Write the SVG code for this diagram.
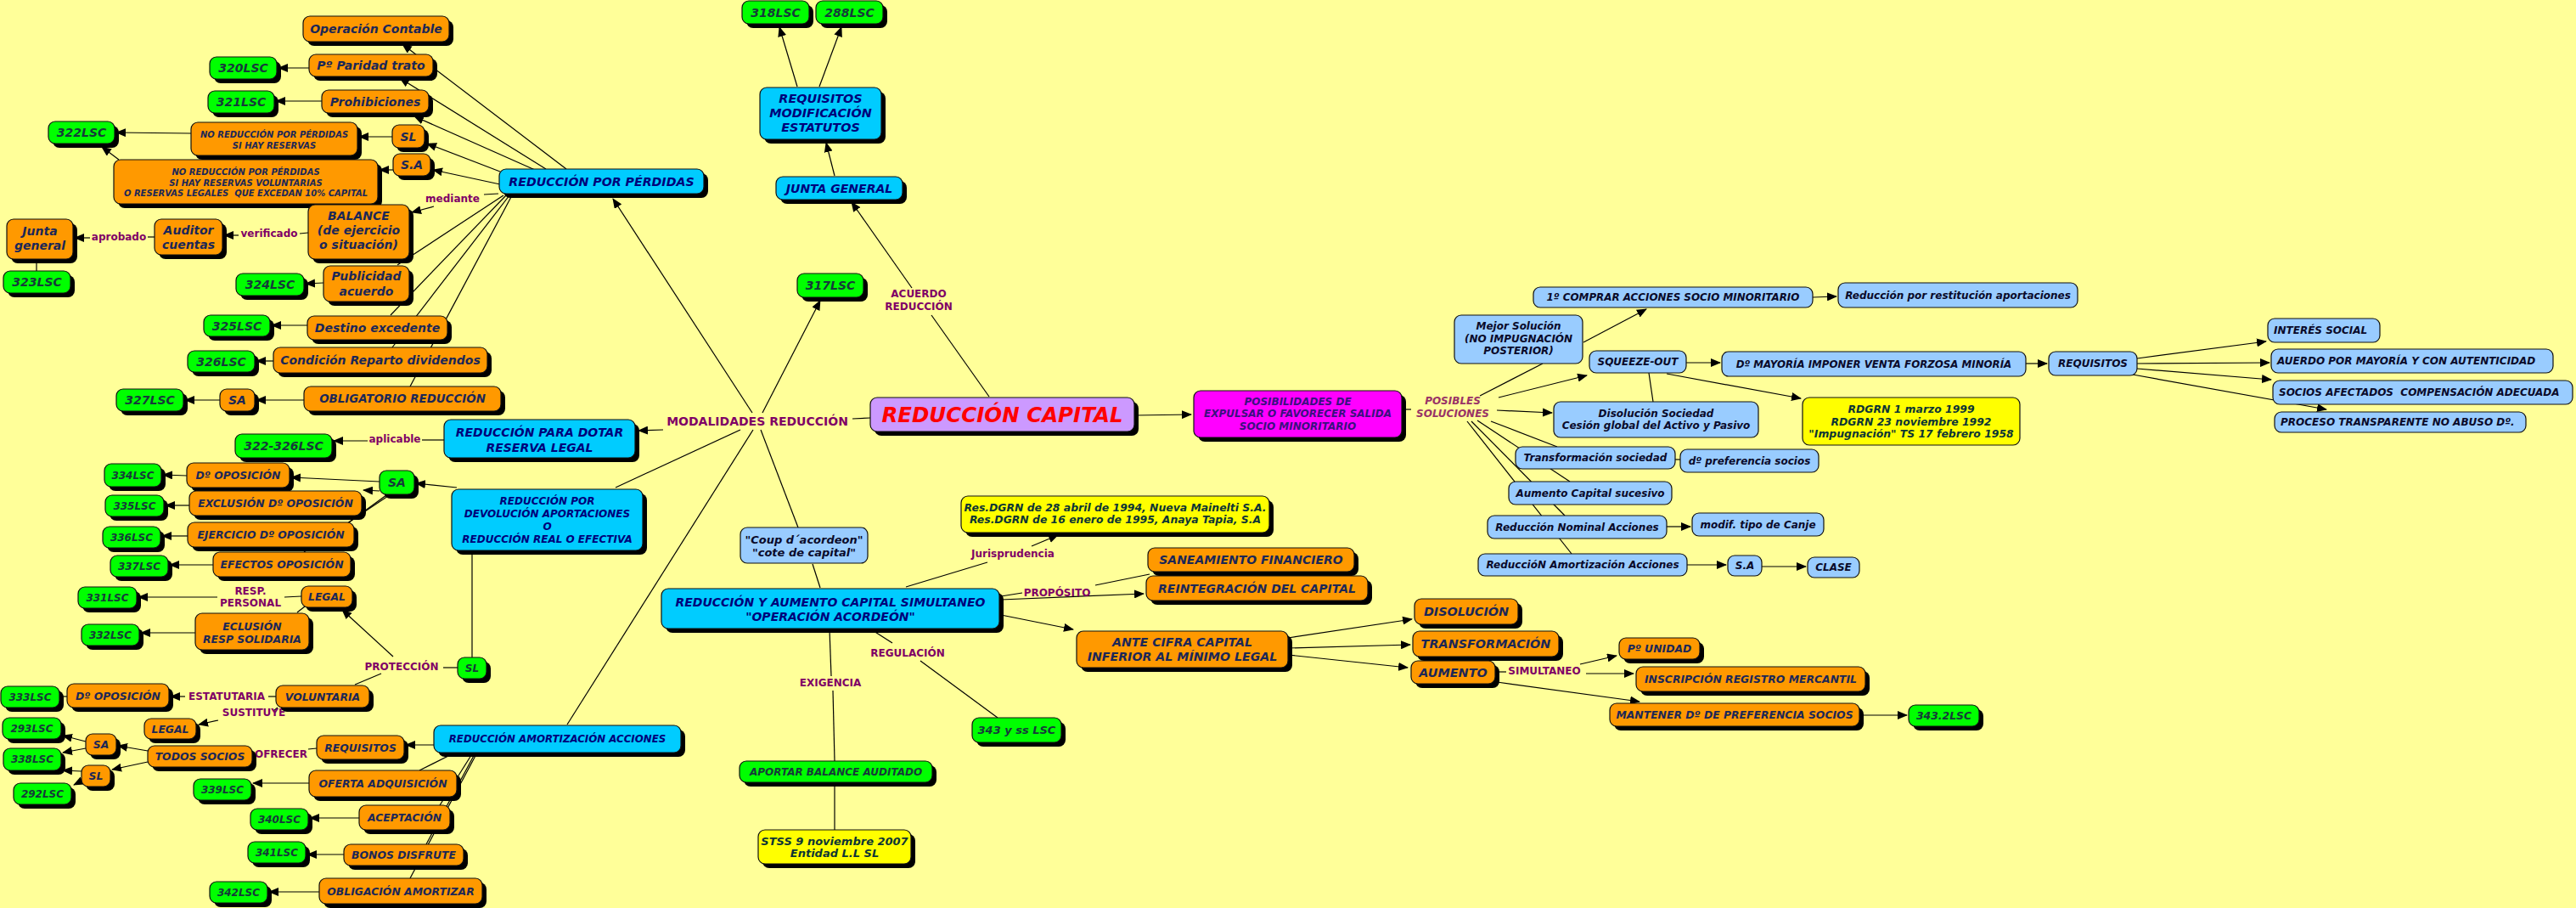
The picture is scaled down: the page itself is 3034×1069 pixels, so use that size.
<svg xmlns="http://www.w3.org/2000/svg" width="3034" height="1069" viewBox="0 0 3034 1069">
<defs>
<marker id="ah" markerWidth="12" markerHeight="10" refX="11" refY="5" orient="auto" markerUnits="userSpaceOnUse"><path d="M0,0 L12,5 L0,10 z" fill="#000"/></marker>
</defs>
<style>
.c line{stroke:#000;stroke-width:1.2;fill:none}
.c line.a{marker-end:url(#ah)}
.sh{fill:#000}
.bx{stroke:#111;stroke-width:1.2}
.nd text{font-family:"DejaVu Sans",Verdana,sans-serif;font-weight:bold;font-style:italic;text-anchor:middle;dominant-baseline:central}
.or .bx{fill:#FF9900}.or text{fill:#1b2757}
.gr .bx{fill:#00FF00}.gr text{fill:#163a3a}
.cy .bx{fill:#00CCFF}.cy text{fill:#00007a}
.lb .bx{fill:#99CCFF}.lb text{fill:#0a0a2a}
.ye .bx{fill:#FFFF00}.ye text{fill:#0c3535}
.mg .bx{fill:#FF00FF}.mg text{fill:#3a1080}
.mn .bx{fill:#CC99FF}.mn text{fill:#FF0000}
.lt text.l{text-anchor:start}
.lab text{font-family:"DejaVu Sans",Verdana,sans-serif;font-weight:bold;fill:#7f0066;text-anchor:middle;dominant-baseline:central;font-size:12px}
</style>
<rect x="0" y="0" width="3034" height="1069" fill="#FFFF99"/>

<g id="connectors" class="c">
<line x1="667" y1="199" x2="474" y2="52" class="a"/>
<line x1="643" y1="199" x2="471" y2="92" class="a"/>
<line x1="630" y1="200" x2="488" y2="137" class="a"/>
<line x1="589" y1="202" x2="503" y2="169" class="a"/>
<line x1="589" y1="217" x2="510" y2="200" class="a"/>
<line x1="587" y1="228" x2="570" y2="229"/>
<line x1="511" y1="243" x2="485" y2="250" class="a"/>
<line x1="593" y1="230" x2="468" y2="312"/>
<line x1="596" y1="230" x2="460" y2="371"/>
<line x1="600" y1="230" x2="462" y2="409"/>
<line x1="603" y1="230" x2="483" y2="455"/>
<line x1="364" y1="80" x2="328" y2="80" class="a"/>
<line x1="379" y1="119" x2="325" y2="119" class="a"/>
<line x1="462" y1="161" x2="423" y2="161" class="a"/>
<line x1="225" y1="157" x2="137" y2="156" class="a"/>
<line x1="463" y1="200" x2="447" y2="200" class="a"/>
<line x1="140" y1="188" x2="120" y2="173" class="a"/>
<line x1="363" y1="274" x2="353" y2="275"/>
<line x1="281" y1="277" x2="264" y2="277" class="a"/>
<line x1="182" y1="279" x2="174" y2="279"/>
<line x1="106" y1="280" x2="88" y2="280" class="a"/>
<line x1="43" y1="305" x2="43" y2="319"/>
<line x1="381" y1="333" x2="360" y2="334" class="a"/>
<line x1="362" y1="383" x2="320" y2="383" class="a"/>
<line x1="322" y1="425" x2="302" y2="425" class="a"/>
<line x1="358" y1="471" x2="302" y2="471" class="a"/>
<line x1="259" y1="471" x2="218" y2="471" class="a"/>
<line x1="523" y1="518" x2="497" y2="518"/>
<line x1="433" y1="519" x2="393" y2="519" class="a"/>
<line x1="538" y1="574" x2="490" y2="569" class="a"/>
<line x1="447" y1="567" x2="343" y2="562" class="a"/>
<line x1="447" y1="578" x2="428" y2="577" class="a"/>
<line x1="455" y1="583" x2="411" y2="615"/>
<line x1="460" y1="582" x2="358" y2="650"/>
<line x1="220" y1="560" x2="192" y2="559" class="a"/>
<line x1="223" y1="595" x2="195" y2="595" class="a"/>
<line x1="221" y1="631" x2="191" y2="631" class="a"/>
<line x1="251" y1="665" x2="200" y2="665" class="a"/>
<line x1="556" y1="648" x2="556" y2="774"/>
<line x1="539" y1="786" x2="522" y2="786"/>
<line x1="463" y1="773" x2="403" y2="718" class="a"/>
<line x1="449" y1="793" x2="418" y2="806"/>
<line x1="355" y1="702" x2="335" y2="703"/>
<line x1="256" y1="703" x2="163" y2="703" class="a"/>
<line x1="359" y1="714" x2="350" y2="721"/>
<line x1="230" y1="745" x2="166" y2="745" class="a"/>
<line x1="325" y1="820" x2="316" y2="820"/>
<line x1="218" y1="820" x2="201" y2="820" class="a"/>
<line x1="79" y1="820" x2="71" y2="820"/>
<line x1="327" y1="833" x2="322" y2="837"/>
<line x1="257" y1="848" x2="234" y2="853" class="a"/>
<line x1="373" y1="881" x2="363" y2="882"/>
<line x1="511" y1="877" x2="478" y2="877" class="a"/>
<line x1="174" y1="884" x2="139" y2="878" class="a"/>
<line x1="174" y1="897" x2="132" y2="906" class="a"/>
<line x1="101" y1="873" x2="74" y2="866" class="a"/>
<line x1="101" y1="881" x2="74" y2="886" class="a"/>
<line x1="96" y1="908" x2="74" y2="907" class="a"/>
<line x1="101" y1="917" x2="87" y2="924" class="a"/>
<line x1="534" y1="887" x2="494" y2="907"/>
<line x1="557" y1="886" x2="518" y2="948"/>
<line x1="560" y1="886" x2="502" y2="994"/>
<line x1="562" y1="886" x2="483" y2="1034"/>
<line x1="364" y1="922" x2="298" y2="922" class="a"/>
<line x1="423" y1="963" x2="365" y2="963" class="a"/>
<line x1="405" y1="1006" x2="362" y2="1006" class="a"/>
<line x1="376" y1="1050" x2="317" y2="1050" class="a"/>
<line x1="886" y1="486" x2="722" y2="234" class="a"/>
<line x1="898" y1="486" x2="966" y2="354" class="a"/>
<line x1="781" y1="506" x2="752" y2="507" class="a"/>
<line x1="872" y1="506" x2="725" y2="574"/>
<line x1="887" y1="506" x2="668" y2="853"/>
<line x1="896" y1="506" x2="940" y2="621"/>
<line x1="957" y1="664" x2="966" y2="692"/>
<line x1="1025" y1="492" x2="1004" y2="493"/>
<line x1="1165" y1="467" x2="1097" y2="371"/>
<line x1="1074" y1="339" x2="1003" y2="238" class="a"/>
<line x1="983" y1="207" x2="973" y2="168" class="a"/>
<line x1="939" y1="102" x2="918" y2="32" class="a"/>
<line x1="965" y1="102" x2="991" y2="32" class="a"/>
<line x1="1336" y1="489" x2="1403" y2="488" class="a"/>
<line x1="1067" y1="691" x2="1163" y2="662"/>
<line x1="1215" y1="643" x2="1246" y2="630" class="a"/>
<line x1="1179" y1="702" x2="1204" y2="698"/>
<line x1="1290" y1="689" x2="1354" y2="676"/>
<line x1="1179" y1="706" x2="1347" y2="699" class="a"/>
<line x1="1179" y1="724" x2="1264" y2="741" class="a"/>
<line x1="977" y1="741" x2="979" y2="796"/>
<line x1="981" y1="813" x2="983" y2="896"/>
<line x1="983" y1="921" x2="983" y2="977"/>
<line x1="1026" y1="741" x2="1051" y2="757"/>
<line x1="1084" y1="778" x2="1175" y2="845"/>
<line x1="1517" y1="751" x2="1663" y2="729" class="a"/>
<line x1="1517" y1="763" x2="1661" y2="759" class="a"/>
<line x1="1517" y1="771" x2="1658" y2="786" class="a"/>
<line x1="1761" y1="791" x2="1774" y2="791"/>
<line x1="1861" y1="782" x2="1904" y2="772" class="a"/>
<line x1="1868" y1="793" x2="1924" y2="793" class="a"/>
<line x1="1763" y1="803" x2="1931" y2="826" class="a"/>
<line x1="2192" y1="842" x2="2246" y2="842" class="a"/>
<line x1="1651" y1="482" x2="1662" y2="482"/>
<line x1="1743" y1="466" x2="1817" y2="428"/>
<line x1="1865" y1="403" x2="1939" y2="364" class="a"/>
<line x1="1765" y1="468" x2="1869" y2="442" class="a"/>
<line x1="1763" y1="483" x2="1828" y2="486" class="a"/>
<line x1="1756" y1="496" x2="1834" y2="526"/>
<line x1="1740" y1="495" x2="1849" y2="567"/>
<line x1="1733" y1="496" x2="1843" y2="607"/>
<line x1="1728" y1="496" x2="1851" y2="652"/>
<line x1="2135" y1="350" x2="2163" y2="349" class="a"/>
<line x1="1986" y1="427" x2="2026" y2="427" class="a"/>
<line x1="1963" y1="440" x2="2121" y2="469" class="a"/>
<line x1="1942" y1="439" x2="1947" y2="473"/>
<line x1="1973" y1="541" x2="1979" y2="541"/>
<line x1="1963" y1="620" x2="1991" y2="620" class="a"/>
<line x1="1987" y1="665" x2="2033" y2="665" class="a"/>
<line x1="2075" y1="667" x2="2127" y2="667" class="a"/>
<line x1="2386" y1="428" x2="2411" y2="428" class="a"/>
<line x1="2517" y1="422" x2="2669" y2="402" class="a"/>
<line x1="2517" y1="428" x2="2673" y2="427" class="a"/>
<line x1="2517" y1="434" x2="2675" y2="447" class="a"/>
<line x1="2512" y1="441" x2="2740" y2="482" class="a"/>
</g>

<g id="labels" class="lab">
<text x="533" y="234">mediante</text>
<text x="317" y="275">verificado</text>
<text x="140" y="279">aprobado</text>
<text x="465" y="517">aplicable</text>
<text x="892" y="496" style="font-size:14px">MODALIDADES REDUCCIÓN</text>
<text x="1082" y="346">ACUERDO</text>
<text x="1082" y="361">REDUCCIÓN</text>
<text x="295" y="696">RESP.</text>
<text x="295" y="710">PERSONAL</text>
<text x="473" y="785">PROTECCIÓN</text>
<text x="267" y="820">ESTATUTARIA</text>
<text x="299" y="839">SUSTITUYE</text>
<text x="331" y="888">OFRECER</text>
<text x="1193" y="652">Jurisprudencia</text>
<text x="1245" y="698">PROPÓSITO</text>
<text x="1069" y="769">REGULACIÓN</text>
<text x="978" y="804">EXIGENCIA</text>
<text x="1819" y="790">SIMULTANEO</text>
<text x="1711" y="472" style="fill:#993366;font-style:italic">POSIBLES</text>
<text x="1711" y="487" style="fill:#993366;font-style:italic">SOLUCIONES</text>
</g>

<!-- orange nodes -->
<g id="n-operacion-contable" class="nd or"><rect class="sh" x="362" y="24" width="172" height="30" rx="8"/><rect class="bx" x="357" y="19" width="172" height="30" rx="8"/><text x="443" y="34" font-size="14">Operación Contable</text></g>
<g id="n-paridad" class="nd or"><rect class="sh" x="369" y="69" width="146" height="26" rx="8"/><rect class="bx" x="364" y="64" width="146" height="26" rx="8"/><text x="437" y="77" font-size="14">Pº Paridad trato</text></g>
<g id="n-prohibiciones" class="nd or"><rect class="sh" x="384" y="111" width="126" height="27" rx="8"/><rect class="bx" x="379" y="106" width="126" height="27" rx="8"/><text x="442" y="119.5" font-size="14">Prohibiciones</text></g>
<g id="n-noreduc1" class="nd or"><rect class="sh" x="230" y="149" width="196" height="39" rx="8"/><rect class="bx" x="225" y="144" width="196" height="39" rx="8"/><text font-size="10"><tspan x="323" y="158">NO REDUCCIÓN POR PÉRDIDAS</tspan><tspan x="323" y="171">SI HAY RESERVAS</tspan></text></g>
<g id="n-sl1" class="nd or"><rect class="sh" x="467" y="152" width="38" height="27" rx="8"/><rect class="bx" x="462" y="147" width="38" height="27" rx="8"/><text x="481" y="160.5" font-size="14">SL</text></g>
<g id="n-sa1" class="nd or"><rect class="sh" x="468" y="186" width="44" height="26" rx="8"/><rect class="bx" x="463" y="181" width="44" height="26" rx="8"/><text x="485" y="194" font-size="14">S.A</text></g>
<g id="n-noreduc2" class="nd or"><rect class="sh" x="139" y="193" width="311" height="52" rx="8"/><rect class="bx" x="134" y="188" width="311" height="52" rx="8"/><text font-size="10" style="white-space:pre"><tspan x="289.5" y="202">NO REDUCCIÓN POR PÉRDIDAS</tspan><tspan x="289.5" y="214.5">SI HAY RESERVAS VOLUNTARIAS</tspan><tspan x="289.5" y="227">O RESERVAS LEGALES  QUE EXCEDAN 10% CAPITAL</tspan></text></g>
<g id="n-balance" class="nd or"><rect class="sh" x="368" y="246" width="119" height="64" rx="8"/><rect class="bx" x="363" y="241" width="119" height="64" rx="8"/><text font-size="14"><tspan x="422.5" y="254">BALANCE</tspan><tspan x="422.5" y="271">(de ejercicio</tspan><tspan x="422.5" y="288">o situación)</tspan></text></g>
<g id="n-auditor" class="nd or"><rect class="sh" x="187" y="263" width="80" height="42" rx="8"/><rect class="bx" x="182" y="258" width="80" height="42" rx="8"/><text font-size="14"><tspan x="222" y="271">Auditor</tspan><tspan x="222" y="288">cuentas</tspan></text></g>
<g id="n-junta1" class="nd or"><rect class="sh" x="13" y="263" width="78" height="47" rx="8"/><rect class="bx" x="8" y="258" width="78" height="47" rx="8"/><text font-size="14"><tspan x="47" y="272">Junta</tspan><tspan x="47" y="289">general</tspan></text></g>
<g id="n-publicidad" class="nd or"><rect class="sh" x="386" y="318" width="101" height="42" rx="8"/><rect class="bx" x="381" y="313" width="101" height="42" rx="8"/><text font-size="14"><tspan x="431.5" y="325">Publicidad</tspan><tspan x="431.5" y="343">acuerdo</tspan></text></g>
<g id="n-destino" class="nd or"><rect class="sh" x="367" y="377" width="165" height="28" rx="8"/><rect class="bx" x="362" y="372" width="165" height="28" rx="8"/><text x="444.5" y="386" font-size="14">Destino excedente</text></g>
<g id="n-condicion" class="nd or"><rect class="sh" x="327" y="414" width="252" height="30" rx="8"/><rect class="bx" x="322" y="409" width="252" height="30" rx="8"/><text x="448" y="424" font-size="14">Condición Reparto dividendos</text></g>
<g id="n-sa2" class="nd or"><rect class="sh" x="264" y="463" width="41" height="26" rx="8"/><rect class="bx" x="259" y="458" width="41" height="26" rx="8"/><text x="279.5" y="471" font-size="14">SA</text></g>
<g id="n-obligatorio" class="nd or"><rect class="sh" x="363" y="460" width="232" height="29" rx="8"/><rect class="bx" x="358" y="455" width="232" height="29" rx="8"/><text x="474" y="469.5" font-size="13.4">OBLIGATORIO REDUCCIÓN</text></g>
<g id="n-doposicion1" class="nd or"><rect class="sh" x="225" y="550" width="121" height="29" rx="8"/><rect class="bx" x="220" y="545" width="121" height="29" rx="8"/><text x="280.5" y="559.5" font-size="12.4">Dº OPOSICIÓN</text></g>
<g id="n-exclusion" class="nd or"><rect class="sh" x="228" y="583" width="203" height="29" rx="8"/><rect class="bx" x="223" y="578" width="203" height="29" rx="8"/><text x="324.5" y="592.5" font-size="12.4">EXCLUSIÓN Dº OPOSICIÓN</text></g>
<g id="n-ejercicio" class="nd or"><rect class="sh" x="226" y="620" width="196" height="29" rx="8"/><rect class="bx" x="221" y="615" width="196" height="29" rx="8"/><text x="319" y="629.5" font-size="12.4">EJERCICIO Dº OPOSICIÓN</text></g>
<g id="n-efectos" class="nd or"><rect class="sh" x="256" y="655" width="162" height="29" rx="8"/><rect class="bx" x="251" y="650" width="162" height="29" rx="8"/><text x="332" y="664.5" font-size="12.4">EFECTOS OPOSICIÓN</text></g>
<g id="n-legal1" class="nd or"><rect class="sh" x="360" y="695" width="60" height="25" rx="8"/><rect class="bx" x="355" y="690" width="60" height="25" rx="8"/><text x="385" y="702.5" font-size="12.4">LEGAL</text></g>
<g id="n-eclusion" class="nd or"><rect class="sh" x="235" y="727" width="134" height="43" rx="8"/><rect class="bx" x="230" y="722" width="134" height="43" rx="8"/><text font-size="12.4"><tspan x="297" y="737">ECLUSIÓN</tspan><tspan x="297" y="752">RESP SOLIDARIA</tspan></text></g>
<g id="n-doposicion2" class="nd or"><rect class="sh" x="84" y="810" width="120" height="28" rx="8"/><rect class="bx" x="79" y="805" width="120" height="28" rx="8"/><text x="139" y="819" font-size="12.4">Dº OPOSICIÓN</text></g>
<g id="n-voluntaria" class="nd or"><rect class="sh" x="330" y="812" width="110" height="26" rx="8"/><rect class="bx" x="325" y="807" width="110" height="26" rx="8"/><text x="380" y="820" font-size="12.4">VOLUNTARIA</text></g>
<g id="n-legal2" class="nd or"><rect class="sh" x="175" y="851" width="61" height="24" rx="8"/><rect class="bx" x="170" y="846" width="61" height="24" rx="8"/><text x="200.5" y="858" font-size="12.4">LEGAL</text></g>
<g id="n-sa3" class="nd or"><rect class="sh" x="106" y="869" width="36" height="25" rx="8"/><rect class="bx" x="101" y="864" width="36" height="25" rx="8"/><text x="119" y="876.5" font-size="12.4">SA</text></g>
<g id="n-todos" class="nd or"><rect class="sh" x="179" y="883" width="123" height="25" rx="8"/><rect class="bx" x="174" y="878" width="123" height="25" rx="8"/><text x="235.5" y="890.5" font-size="12.4">TODOS SOCIOS</text></g>
<g id="n-sl3" class="nd or"><rect class="sh" x="101" y="906" width="34" height="25" rx="8"/><rect class="bx" x="96" y="901" width="34" height="25" rx="8"/><text x="113" y="913.5" font-size="12.4">SL</text></g>
<g id="n-requisitos1" class="nd or"><rect class="sh" x="378" y="871" width="103" height="28" rx="8"/><rect class="bx" x="373" y="866" width="103" height="28" rx="8"/><text x="424.5" y="880" font-size="12.4">REQUISITOS</text></g>
<g id="n-oferta" class="nd or"><rect class="sh" x="369" y="912" width="174" height="31" rx="8"/><rect class="bx" x="364" y="907" width="174" height="31" rx="8"/><text x="451" y="922.5" font-size="12.4">OFERTA ADQUISICIÓN</text></g>
<g id="n-aceptacion" class="nd or"><rect class="sh" x="428" y="953" width="107" height="29" rx="8"/><rect class="bx" x="423" y="948" width="107" height="29" rx="8"/><text x="476.5" y="962.5" font-size="12.4">ACEPTACIÓN</text></g>
<g id="n-bonos" class="nd or"><rect class="sh" x="410" y="999" width="141" height="25" rx="8"/><rect class="bx" x="405" y="994" width="141" height="25" rx="8"/><text x="475.5" y="1006.5" font-size="12.4">BONOS DISFRUTE</text></g>
<g id="n-obligacion" class="nd or"><rect class="sh" x="381" y="1039" width="192" height="30" rx="8"/><rect class="bx" x="376" y="1034" width="192" height="30" rx="8"/><text x="472" y="1049" font-size="12.4">OBLIGACIÓN AMORTIZAR</text></g>
<g id="n-saneamiento" class="nd or"><rect class="sh" x="1357" y="650" width="243" height="28" rx="8"/><rect class="bx" x="1352" y="645" width="243" height="28" rx="8"/><text x="1473.5" y="659" font-size="14">SANEAMIENTO FINANCIERO</text></g>
<g id="n-reintegracion" class="nd or"><rect class="sh" x="1355" y="683" width="261" height="29" rx="8"/><rect class="bx" x="1350" y="678" width="261" height="29" rx="8"/><text x="1480.5" y="692.5" font-size="14">REINTEGRACIÓN DEL CAPITAL</text></g>
<g id="n-ante" class="nd or"><rect class="sh" x="1273" y="748" width="249" height="43" rx="8"/><rect class="bx" x="1268" y="743" width="249" height="43" rx="8"/><text font-size="14.2"><tspan x="1392.5" y="756">ANTE CIFRA CAPITAL</tspan><tspan x="1392.5" y="773">INFERIOR AL MÍNIMO LEGAL</tspan></text></g>
<g id="n-disolucion" class="nd or"><rect class="sh" x="1671" y="710" width="122" height="30" rx="8"/><rect class="bx" x="1666" y="705" width="122" height="30" rx="8"/><text x="1727" y="720" font-size="14.4">DISOLUCIÓN</text></g>
<g id="n-transformacion" class="nd or"><rect class="sh" x="1669" y="748" width="172" height="30" rx="8"/><rect class="bx" x="1664" y="743" width="172" height="30" rx="8"/><text x="1750" y="758" font-size="14.4">TRANSFORMACIÓN</text></g>
<g id="n-aumento" class="nd or"><rect class="sh" x="1667" y="783" width="99" height="27" rx="8"/><rect class="bx" x="1662" y="778" width="99" height="27" rx="8"/><text x="1711.5" y="791.5" font-size="14.4">AUMENTO</text></g>
<g id="n-unidad" class="nd or"><rect class="sh" x="1912" y="756" width="95" height="25" rx="8"/><rect class="bx" x="1907" y="751" width="95" height="25" rx="8"/><text x="1954.5" y="763.5" font-size="12.4">Pº UNIDAD</text></g>
<g id="n-inscripcion" class="nd or"><rect class="sh" x="1932" y="790" width="270" height="29" rx="8"/><rect class="bx" x="1927" y="785" width="270" height="29" rx="8"/><text x="2062" y="799.5" font-size="12.4">INSCRIPCIÓN REGISTRO MERCANTIL</text></g>
<g id="n-mantener" class="nd or"><rect class="sh" x="1901" y="833" width="294" height="27" rx="8"/><rect class="bx" x="1896" y="828" width="294" height="27" rx="8"/><text x="2043" y="841.5" font-size="12.4">MANTENER Dº DE PREFERENCIA SOCIOS</text></g>

<!-- green nodes -->
<g id="n-320" class="nd gr"><rect class="sh" x="252" y="72" width="79" height="26" rx="8"/><rect class="bx" x="247" y="67" width="79" height="26" rx="8"/><text x="286.5" y="80" font-size="14">320LSC</text></g>
<g id="n-321" class="nd gr"><rect class="sh" x="250" y="112" width="78" height="26" rx="8"/><rect class="bx" x="245" y="107" width="78" height="26" rx="8"/><text x="284" y="120" font-size="14">321LSC</text></g>
<g id="n-322" class="nd gr"><rect class="sh" x="62" y="148" width="78" height="26" rx="8"/><rect class="bx" x="57" y="143" width="78" height="26" rx="8"/><text x="96" y="156" font-size="14">322LSC</text></g>
<g id="n-323" class="nd gr"><rect class="sh" x="9" y="324" width="79" height="26" rx="8"/><rect class="bx" x="4" y="319" width="79" height="26" rx="8"/><text x="43.5" y="332" font-size="14">323LSC</text></g>
<g id="n-324" class="nd gr"><rect class="sh" x="283" y="327" width="80" height="26" rx="8"/><rect class="bx" x="278" y="322" width="80" height="26" rx="8"/><text x="318" y="335" font-size="14">324LSC</text></g>
<g id="n-325" class="nd gr"><rect class="sh" x="245" y="376" width="78" height="25" rx="8"/><rect class="bx" x="240" y="371" width="78" height="25" rx="8"/><text x="279" y="383.5" font-size="14">325LSC</text></g>
<g id="n-326" class="nd gr"><rect class="sh" x="226" y="418" width="79" height="25" rx="8"/><rect class="bx" x="221" y="413" width="79" height="25" rx="8"/><text x="260.5" y="425.5" font-size="14">326LSC</text></g>
<g id="n-327" class="nd gr"><rect class="sh" x="142" y="463" width="79" height="26" rx="8"/><rect class="bx" x="137" y="458" width="79" height="26" rx="8"/><text x="176.5" y="471" font-size="14">327LSC</text></g>
<g id="n-322-326" class="nd gr"><rect class="sh" x="282" y="516" width="114" height="28" rx="8"/><rect class="bx" x="277" y="511" width="114" height="28" rx="8"/><text x="334" y="525" font-size="14">322-326LSC</text></g>
<g id="n-334" class="nd gr"><rect class="sh" x="128" y="551" width="67" height="27" rx="8"/><rect class="bx" x="123" y="546" width="67" height="27" rx="8"/><text x="156.5" y="559.5" font-size="12">334LSC</text></g>
<g id="n-335" class="nd gr"><rect class="sh" x="129" y="588" width="69" height="25" rx="8"/><rect class="bx" x="124" y="583" width="69" height="25" rx="8"/><text x="158.5" y="595.5" font-size="12">335LSC</text></g>
<g id="n-336" class="nd gr"><rect class="sh" x="126" y="625" width="68" height="25" rx="8"/><rect class="bx" x="121" y="620" width="68" height="25" rx="8"/><text x="155" y="632.5" font-size="12">336LSC</text></g>
<g id="n-337" class="nd gr"><rect class="sh" x="135" y="659" width="68" height="25" rx="8"/><rect class="bx" x="130" y="654" width="68" height="25" rx="8"/><text x="164" y="666.5" font-size="12">337LSC</text></g>
<g id="n-331" class="nd gr"><rect class="sh" x="97" y="696" width="69" height="25" rx="8"/><rect class="bx" x="92" y="691" width="69" height="25" rx="8"/><text x="126.5" y="703.5" font-size="12">331LSC</text></g>
<g id="n-332" class="nd gr"><rect class="sh" x="101" y="740" width="68" height="25" rx="8"/><rect class="bx" x="96" y="735" width="68" height="25" rx="8"/><text x="130" y="747.5" font-size="12">332LSC</text></g>
<g id="n-sl2" class="nd gr"><rect class="sh" x="544" y="779" width="34" height="25" rx="8"/><rect class="bx" x="539" y="774" width="34" height="25" rx="8"/><text x="556" y="786.5" font-size="12">SL</text></g>
<g id="n-333" class="nd gr"><rect class="sh" x="6" y="813" width="69" height="25" rx="8"/><rect class="bx" x="1" y="808" width="69" height="25" rx="8"/><text x="35.5" y="820.5" font-size="12">333LSC</text></g>
<g id="n-293" class="nd gr"><rect class="sh" x="8" y="850" width="69" height="25" rx="8"/><rect class="bx" x="3" y="845" width="69" height="25" rx="8"/><text x="37.5" y="857.5" font-size="12">293LSC</text></g>
<g id="n-338" class="nd gr"><rect class="sh" x="9" y="886" width="68" height="26" rx="8"/><rect class="bx" x="4" y="881" width="68" height="26" rx="8"/><text x="38" y="894" font-size="12">338LSC</text></g>
<g id="n-292" class="nd gr"><rect class="sh" x="21" y="927" width="68" height="25" rx="8"/><rect class="bx" x="16" y="922" width="68" height="25" rx="8"/><text x="50" y="934.5" font-size="12">292LSC</text></g>
<g id="n-339" class="nd gr"><rect class="sh" x="233" y="922" width="68" height="25" rx="8"/><rect class="bx" x="228" y="917" width="68" height="25" rx="8"/><text x="262" y="929.5" font-size="12">339LSC</text></g>
<g id="n-340" class="nd gr"><rect class="sh" x="300" y="957" width="68" height="25" rx="8"/><rect class="bx" x="295" y="952" width="68" height="25" rx="8"/><text x="329" y="964.5" font-size="12">340LSC</text></g>
<g id="n-341" class="nd gr"><rect class="sh" x="297" y="996" width="68" height="25" rx="8"/><rect class="bx" x="292" y="991" width="68" height="25" rx="8"/><text x="326" y="1003.5" font-size="12">341LSC</text></g>
<g id="n-342" class="nd gr"><rect class="sh" x="252" y="1043" width="68" height="25" rx="8"/><rect class="bx" x="247" y="1038" width="68" height="25" rx="8"/><text x="281" y="1050.5" font-size="12">342LSC</text></g>
<g id="n-sa-green" class="nd gr"><rect class="sh" x="452" y="559" width="41" height="28" rx="8"/><rect class="bx" x="447" y="554" width="41" height="28" rx="8"/><text x="467.5" y="568" font-size="14">SA</text></g>
<g id="n-318" class="nd gr"><rect class="sh" x="879" y="6" width="79" height="27" rx="8"/><rect class="bx" x="874" y="1" width="79" height="27" rx="8"/><text x="913.5" y="14.5" font-size="14">318LSC</text></g>
<g id="n-288" class="nd gr"><rect class="sh" x="966" y="6" width="79" height="27" rx="8"/><rect class="bx" x="961" y="1" width="79" height="27" rx="8"/><text x="1000.5" y="14.5" font-size="14">288LSC</text></g>
<g id="n-317" class="nd gr"><rect class="sh" x="944" y="327" width="78" height="28" rx="8"/><rect class="bx" x="939" y="322" width="78" height="28" rx="8"/><text x="978" y="336" font-size="14">317LSC</text></g>
<g id="n-343" class="nd gr"><rect class="sh" x="1150" y="850" width="105" height="29" rx="8"/><rect class="bx" x="1145" y="845" width="105" height="29" rx="8"/><text x="1197.5" y="859.5" font-size="13">343 y ss LSC</text></g>
<g id="n-aportar" class="nd gr"><rect class="sh" x="876" y="901" width="227" height="25" rx="8"/><rect class="bx" x="871" y="896" width="227" height="25" rx="8"/><text x="984.5" y="908.5" font-size="12">APORTAR BALANCE AUDITADO</text></g>
<g id="n-343-2" class="nd gr"><rect class="sh" x="2253" y="835" width="83" height="25" rx="8"/><rect class="bx" x="2248" y="830" width="83" height="25" rx="8"/><text x="2289.5" y="842.5" font-size="12.4">343.2LSC</text></g>

<!-- cyan nodes -->
<g id="n-perdidas" class="nd cy"><rect class="sh" x="593" y="204" width="241" height="29" rx="8"/><rect class="bx" x="588" y="199" width="241" height="29" rx="8"/><text x="708.5" y="213.5" font-size="14.2">REDUCCIÓN POR PÉRDIDAS</text></g>
<g id="n-junta-general" class="nd cy"><rect class="sh" x="919" y="213" width="149" height="27" rx="8"/><rect class="bx" x="914" y="208" width="149" height="27" rx="8"/><text x="988.5" y="221.5" font-size="14">JUNTA GENERAL</text></g>
<g id="n-req-estatutos" class="nd cy"><rect class="sh" x="900" y="108" width="143" height="61" rx="8"/><rect class="bx" x="895" y="103" width="143" height="61" rx="8"/><text font-size="14.4"><tspan x="966.5" y="116">REQUISITOS</tspan><tspan x="966.5" y="133">MODIFICACIÓN</tspan><tspan x="966.5" y="150">ESTATUTOS</tspan></text></g>
<g id="n-dotar" class="nd cy"><rect class="sh" x="528" y="499" width="225" height="45" rx="8"/><rect class="bx" x="523" y="494" width="225" height="45" rx="8"/><text font-size="14"><tspan x="635.5" y="509">REDUCCIÓN PARA DOTAR</tspan><tspan x="635.5" y="527">RESERVA LEGAL</tspan></text></g>
<g id="n-devolucion" class="nd cy"><rect class="sh" x="537" y="581" width="225" height="72" rx="8"/><rect class="bx" x="532" y="576" width="225" height="72" rx="8"/><text font-size="12"><tspan x="644.5" y="590">REDUCCIÓN POR</tspan><tspan x="644.5" y="605">DEVOLUCIÓN APORTACIONES</tspan><tspan x="644.5" y="620">O</tspan><tspan x="644.5" y="634.5">REDUCCIÓN REAL O EFECTIVA</tspan></text></g>
<g id="n-amortizacion" class="nd cy"><rect class="sh" x="516" y="859" width="291" height="32" rx="8"/><rect class="bx" x="511" y="854" width="291" height="32" rx="8"/><text x="656.5" y="870" font-size="11.8">REDUCCIÓN AMORTIZACIÓN ACCIONES</text></g>
<g id="n-acordeon" class="nd cy"><rect class="sh" x="784" y="698" width="398" height="47" rx="8"/><rect class="bx" x="779" y="693" width="398" height="47" rx="8"/><text font-size="14"><tspan x="978" y="709">REDUCCIÓN Y AUMENTO CAPITAL SIMULTANEO</tspan><tspan x="978" y="726">"OPERACIÓN ACORDEÓN"</tspan></text></g>

<!-- light blue nodes -->
<g id="n-coup" class="nd lb"><rect class="bx" x="872" y="621" width="150" height="42" rx="8"/><text font-size="13"><tspan x="947" y="635">"Coup d´acordeon"</tspan><tspan x="947" y="649.5">"cote de capital"</tspan></text></g>
<g id="n-mejor" class="nd lb"><rect class="bx" x="1713" y="371" width="151" height="57" rx="8"/><text font-size="12"><tspan x="1788.5" y="384">Mejor Solución</tspan><tspan x="1788.5" y="399">(NO IMPUGNACIÓN</tspan><tspan x="1788.5" y="413">POSTERIOR)</tspan></text></g>
<g id="n-comprar" class="nd lb"><rect class="bx" x="1806" y="338" width="329" height="24" rx="8"/><text x="1970.5" y="350" font-size="11.9">1º COMPRAR ACCIONES SOCIO MINORITARIO</text></g>
<g id="n-restitucion" class="nd lb"><rect class="bx" x="2165" y="333" width="282" height="29" rx="8"/><text x="2306" y="347.5" font-size="12">Reducción por restitución aportaciones</text></g>
<g id="n-squeeze" class="nd lb"><rect class="bx" x="1872" y="413" width="114" height="26" rx="8"/><text x="1929" y="426" font-size="12">SQUEEZE-OUT</text></g>
<g id="n-mayoria" class="nd lb"><rect class="bx" x="2028" y="414" width="358" height="29" rx="8"/><text x="2207" y="428.5" font-size="11.8">Dº MAYORÍA IMPONER VENTA FORZOSA MINORÍA</text></g>
<g id="n-requisitos2" class="nd lb"><rect class="bx" x="2413" y="414" width="104" height="28" rx="8"/><text x="2465" y="428" font-size="12">REQUISITOS</text></g>
<g id="n-disol-soc" class="nd lb"><rect class="bx" x="1830" y="473" width="241" height="42" rx="8"/><text font-size="12"><tspan x="1950.5" y="487">Disolución Sociedad</tspan><tspan x="1950.5" y="501">Cesión global del Activo y Pasivo</tspan></text></g>
<g id="n-transf-soc" class="nd lb"><rect class="bx" x="1785" y="526" width="188" height="26" rx="8"/><text x="1879" y="539" font-size="12">Transformación sociedad</text></g>
<g id="n-pref-socios" class="nd lb"><rect class="bx" x="1979" y="529" width="163" height="27" rx="8"/><text x="2060.5" y="542.5" font-size="12">dº preferencia socios</text></g>
<g id="n-aum-sucesivo" class="nd lb"><rect class="bx" x="1777" y="567" width="192" height="27" rx="8"/><text x="1873" y="580.5" font-size="12">Aumento Capital sucesivo</text></g>
<g id="n-red-nominal" class="nd lb"><rect class="bx" x="1752" y="607" width="211" height="27" rx="8"/><text x="1857.5" y="620.5" font-size="12">Reducción Nominal Acciones</text></g>
<g id="n-canje" class="nd lb"><rect class="bx" x="1993" y="604" width="155" height="27" rx="8"/><text x="2070.5" y="617.5" font-size="12">modif. tipo de Canje</text></g>
<g id="n-red-amort" class="nd lb"><rect class="bx" x="1741" y="652" width="246" height="26" rx="8"/><text x="1864" y="665" font-size="12">ReduccióN Amortización Acciones</text></g>
<g id="n-sa-lb" class="nd lb"><rect class="bx" x="2035" y="654" width="40" height="24" rx="8"/><text x="2055" y="666" font-size="12">S.A</text></g>
<g id="n-clase" class="nd lb"><rect class="bx" x="2129" y="656" width="61" height="24" rx="8"/><text x="2159.5" y="668" font-size="12">CLASE</text></g>
<g id="n-interes" class="nd lb lt"><rect class="bx" x="2671" y="375" width="132" height="28" rx="8"/><text class="l" x="2678" y="389" font-size="12">INTERÉS SOCIAL</text></g>
<g id="n-auerdo" class="nd lb lt"><rect class="bx" x="2675" y="411" width="332" height="28" rx="8"/><text class="l" x="2682" y="425" font-size="12">AUERDO POR MAYORÍA Y CON AUTENTICIDAD</text></g>
<g id="n-socios-af" class="nd lb lt"><rect class="bx" x="2677" y="448" width="353" height="28" rx="8"/><text class="l" x="2684" y="462" font-size="12" style="white-space:pre">SOCIOS AFECTADOS  COMPENSACIÓN ADECUADA</text></g>
<g id="n-proceso" class="nd lb lt"><rect class="bx" x="2679" y="485" width="296" height="24" rx="8"/><text class="l" x="2686" y="497" font-size="12">PROCESO TRANSPARENTE NO ABUSO Dº.</text></g>

<!-- yellow nodes -->
<g id="n-resdgrn" class="nd ye"><rect class="sh" x="1137" y="589" width="363" height="43" rx="8"/><rect class="bx" x="1132" y="584" width="363" height="43" rx="8"/><text font-size="12.4"><tspan x="1313.5" y="597">Res.DGRN de 28 abril de 1994, Nueva Mainelti S.A.</tspan><tspan x="1313.5" y="611">Res.DGRN de 16 enero de 1995, Anaya Tapia, S.A</tspan></text></g>
<g id="n-stss" class="nd ye"><rect class="sh" x="898" y="982" width="180" height="40" rx="8"/><rect class="bx" x="893" y="977" width="180" height="40" rx="8"/><text font-size="13"><tspan x="983" y="990">STSS 9 noviembre 2007</tspan><tspan x="983" y="1004">Entidad L.L SL</tspan></text></g>
<g id="n-rdgrn" class="nd ye"><rect class="bx" x="2123" y="468" width="256" height="56" rx="8"/><text font-size="12.4"><tspan x="2251" y="481">RDGRN 1 marzo 1999</tspan><tspan x="2251" y="496">RDGRN 23 noviembre 1992</tspan><tspan x="2251" y="510">"Impugnación" TS 17 febrero 1958</tspan></text></g>

<!-- magenta & main -->
<g id="n-posibilidades" class="nd mg"><rect class="sh" x="1411" y="465" width="245" height="55" rx="8"/><rect class="bx" x="1406" y="460" width="245" height="55" rx="8"/><text font-size="12"><tspan x="1528.5" y="473">POSIBILIDADES DE</tspan><tspan x="1528.5" y="487">EXPULSAR O FAVORECER SALIDA</tspan><tspan x="1528.5" y="502">SOCIO MINORITARIO</tspan></text></g>
<g id="n-main" class="nd mn"><rect class="sh" x="1030" y="473" width="311" height="40" rx="8"/><rect class="bx" x="1025" y="468" width="311" height="40" rx="8"/><text x="1180.5" y="488" font-size="24.5">REDUCCIÓN CAPITAL</text></g>
</svg>
